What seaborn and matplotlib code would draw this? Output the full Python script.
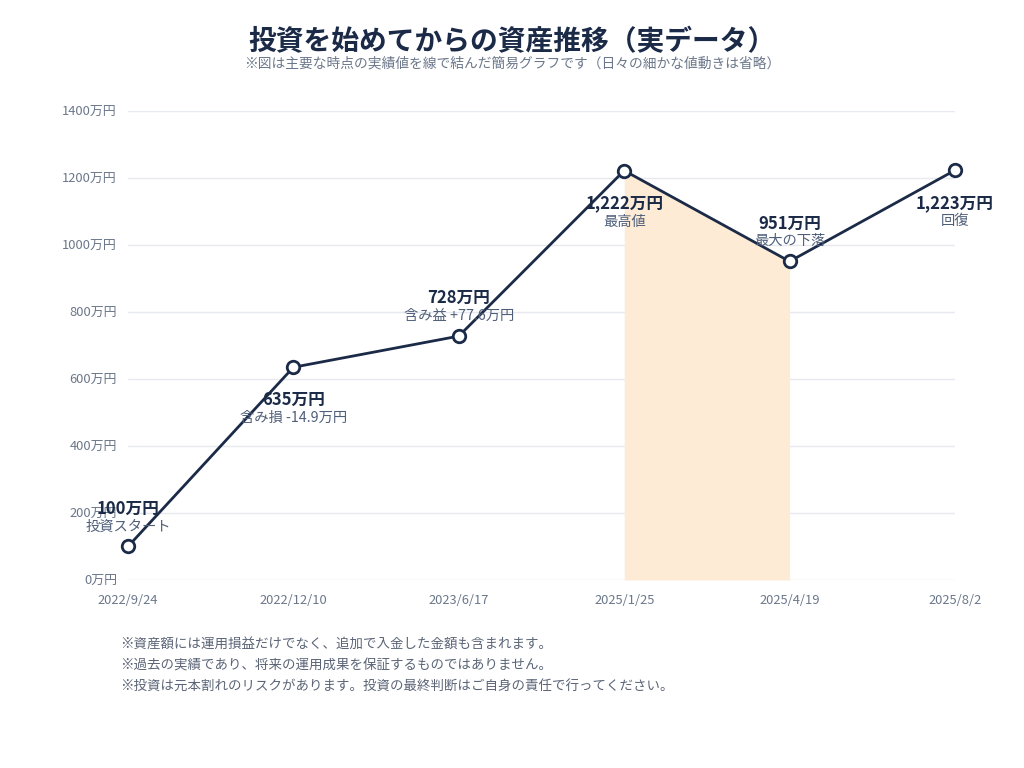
import matplotlib
matplotlib.use('Agg')
import matplotlib.pyplot as plt
import seaborn as sns
import pandas as pd
import numpy as np

# data
dates = ['2022/9/24', '2022/12/10', '2023/6/17', '2025/1/25', '2025/4/19', '2025/8/2']
values = [100, 635, 728, 1222, 951, 1223]
value_labels = ['100万円', '635万円', '728万円', '1,222万円', '951万円', '1,223万円']
notes = ['投資スタート', '含み損 -14.9万円', '含み益 +77.6万円', '最高値', '最大の下落', '回復']
label_above = [True, False, True, False, True, False]
drawdown_start, drawdown_end = 3, 4

yticks = [0, 200, 400, 600, 800, 1000, 1200, 1400]
footnotes = [
    '※資産額には運用損益だけでなく、追加で入金した金額も含まれます。',
    '※過去の実績であり、将来の運用成果を保証するものではありません。',
    '※投資は元本割れのリスクがあります。投資の最終判断はご自身の責任で行ってください。',
]

sns.set_theme(style='white')
plt.rcParams['font.family'] = ['Noto Sans CJK JP', 'DejaVu Sans']

navy = '#1b2a47'
grey = '#6b778a'

df = pd.DataFrame({'idx': range(len(dates)), 'value': values})

fig = plt.figure(figsize=(10.24, 7.68), dpi=100)
ax = fig.add_axes([0.125, 0.2448, 0.8076, 0.6107])

# drawdown shading
seg = df.iloc[drawdown_start:drawdown_end + 1]
ax.fill_between(seg['idx'], 0, seg['value'], color='#fdebd6', lw=0, zorder=1)

sns.lineplot(data=df, x='idx', y='value', ax=ax, color=navy, lw=2.0,
             marker='o', markersize=9, markerfacecolor='white',
             markeredgecolor=navy, markeredgewidth=2, zorder=3, clip_on=False)

ax.set_xlim(0, len(dates) - 1)
ax.set_ylim(0, 1400)
ax.set_yticks(yticks)
ax.set_yticklabels([f'{v}万円' for v in yticks], color=grey, fontsize=9.3)
ax.set_xticks(df['idx'])
ax.set_xticklabels(dates, color=grey, fontsize=9.3)
ax.tick_params(axis='both', length=0, pad=8)
ax.tick_params(axis='x', pad=10)
ax.set_xlabel('')
ax.set_ylabel('')
ax.grid(axis='y', color='#e6e9ef', lw=1)
ax.set_axisbelow(True)
for s in ax.spines.values():
    s.set_visible(False)

# point annotations
for i, (v, vl, nt, up) in enumerate(zip(values, value_labels, notes, label_above)):
    if up:
        off_v, off_n = 38, 20
    else:
        off_v, off_n = -33, -51
    ax.annotate(vl, (i, v), xytext=(0, off_v * 0.72), textcoords='offset points',
                ha='center', va='center', fontsize=12, fontweight='bold', color=navy, zorder=5)
    ax.annotate(nt, (i, v), xytext=(0, off_n * 0.72), textcoords='offset points',
                ha='center', va='center', fontsize=10.3, color='#4f5f7a', zorder=5)

fig.text(0.5, 0.945, '投資を始めてからの資産推移（実データ）', ha='center', va='center',
         fontsize=20, fontweight='bold', color=navy)
fig.text(0.5, 0.918, '※図は主要な時点の実績値を線で結んだ簡易グラフです（日々の細かな値動きは省略）',
         ha='center', va='center', fontsize=9.9, color=grey)

for k, t in enumerate(footnotes):
    fig.text(0.117, (768 - 645 - 21 * k) / 768, t, ha='left', va='center',
             fontsize=9.7, color='#5b6577')

fig.savefig('out.png', dpi=100)
